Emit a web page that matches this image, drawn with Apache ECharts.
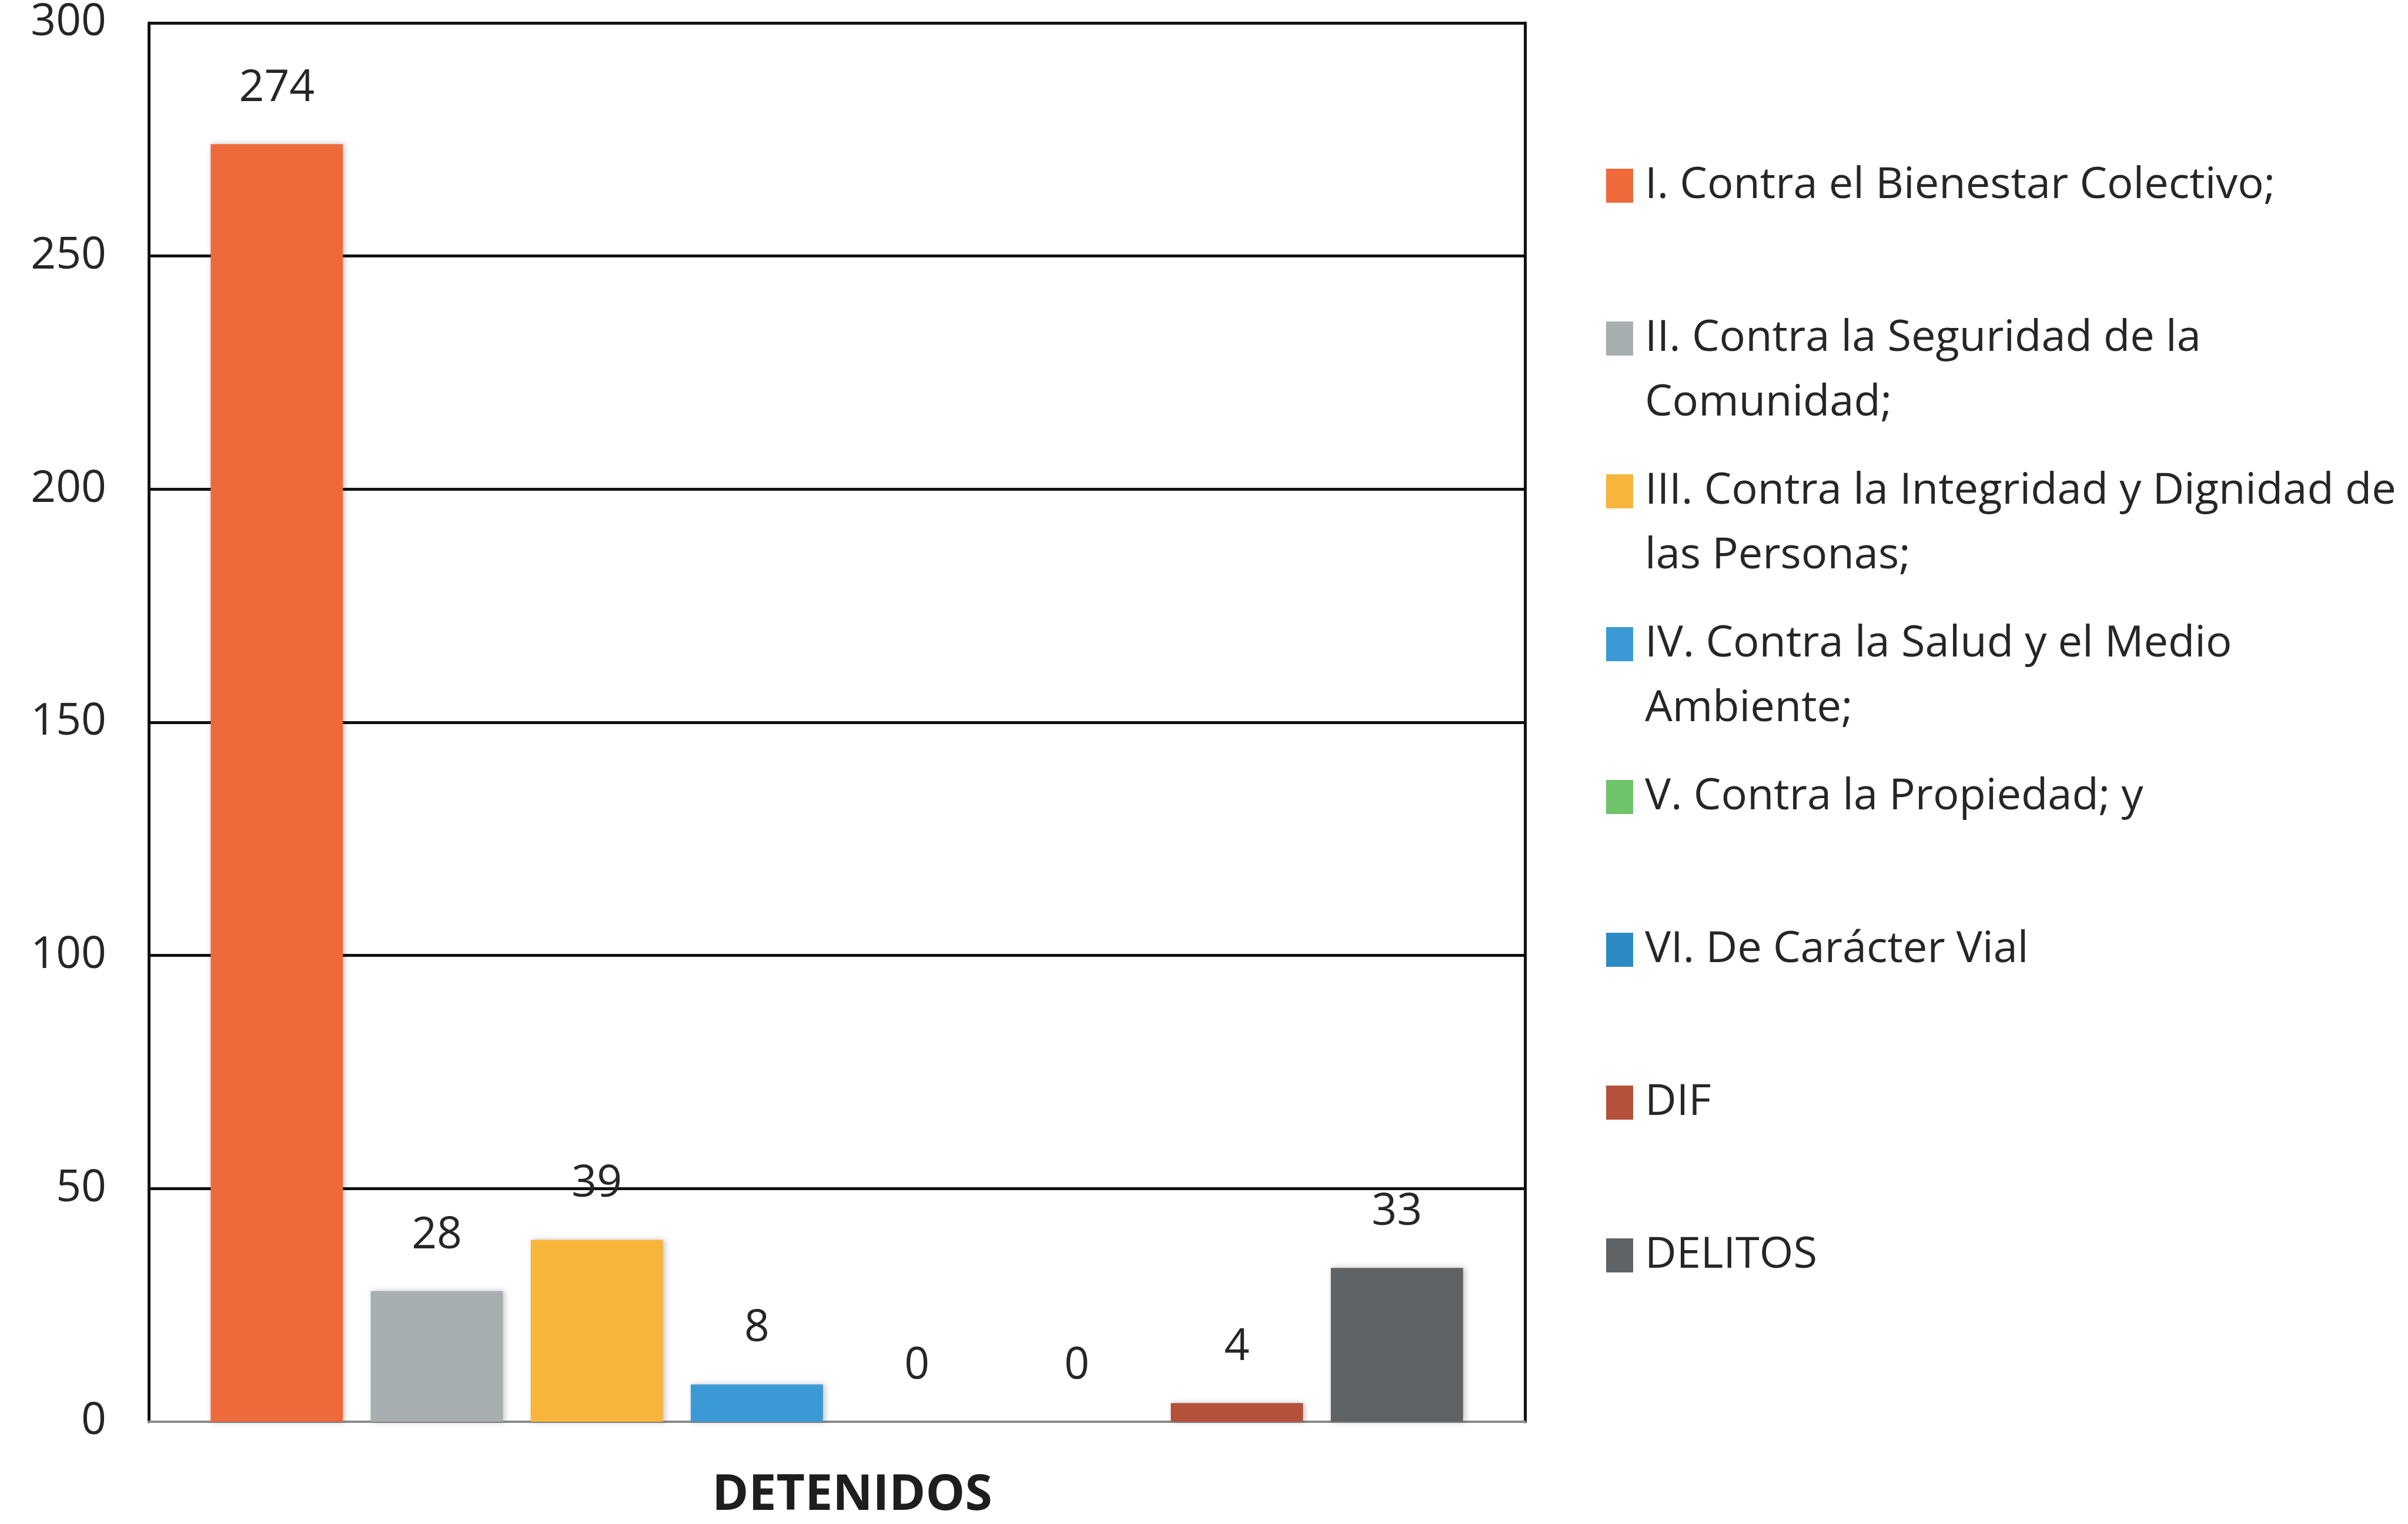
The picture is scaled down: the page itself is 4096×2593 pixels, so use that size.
<!DOCTYPE html>
<html>
<head>
<meta charset="utf-8">
<script src="https://cdn.jsdelivr.net/npm/echarts@6/dist/echarts.min.js"></script>
<style>
  html, body { margin: 0; padding: 0; background: #fff; }
  #chart { width: 4096px; height: 2593px; }
</style>
</head>
<body>
<div id="chart"></div>
<script>
// datos
const categories = ['DETENIDOS']
const seriesNames = [
  'I. Contra el Bienestar Colectivo;',
  'II. Contra la Seguridad de la Comunidad;',
  'III. Contra la Integridad y Dignidad de las Personas;',
  'IV. Contra la Salud y el Medio Ambiente;',
  'V. Contra la Propiedad; y',
  'VI. De Carácter Vial',
  'DIF',
  'DELITOS'
]
// texto de la leyenda con el salto de linea del original
const legendText = [
  'I. Contra el Bienestar Colectivo;',
  'II. Contra la Seguridad de la\nComunidad;',
  'III. Contra la Integridad y Dignidad de\nlas Personas;',
  'IV. Contra la Salud y el Medio\nAmbiente;',
  'V. Contra la Propiedad; y',
  'VI. De Carácter Vial',
  'DIF',
  'DELITOS'
]
const values = [274, 28, 39, 8, 0, 0, 4, 33]
const colors = ['#EF6A3A', '#A7AEB0', '#F7B53C', '#3B9AD6', '#6DC46B', '#2B8BC2', '#B4513A', '#5F6366']

const font = '"Open Sans", "Noto Sans", sans-serif'
const lineH = 110 // alto de linea en la leyenda

const myChart = echarts.init(document.getElementById('chart'))

const legends = seriesNames.map((name, i) => {
  const center = 316 + i * 260
  const wrapped = legendText[i].indexOf('\n') >= 0
  return {
    data: [name],
    orient: 'vertical',
    left: 2732,
    top: wrapped ? center - 1.5 * lineH : center - lineH / 2,
    padding: 0,
    icon: 'rect',
    itemWidth: 46,
    itemHeight: 58,
    itemStyle: { shadowBlur: 0 },
    // linea en blanco arriba para que el icono quede con la primera linea
    formatter: () => (wrapped ? ' \n' : '') + legendText[i],
    textStyle: {
      fontFamily: font,
      fontSize: 74,
      lineHeight: lineH,
      color: '#262626',
      padding: [0, 0, 0, 15]
    }
  }
})

myChart.setOption({
  backgroundColor: '#ffffff',
  animation: false,
  legend: legends,
  grid: {
    left: 253,
    right: 1502,
    top: 39,
    bottom: 174
  },
  xAxis: {
    type: 'category',
    data: categories,
    axisLine: {
      show: true,
      lineStyle: { color: '#8c8c8c', width: 4 }
    },
    axisTick: { show: false },
    axisLabel: {
      margin: 84,
      fontFamily: font,
      fontSize: 84,
      fontWeight: 'bold',
      color: '#1e1e1e',
      padding: [0, 0, 0, 52]
    }
  },
  yAxis: [
    {
      type: 'value',
      min: 0,
      max: 300,
      interval: 50,
      axisLine: {
        show: true,
        lineStyle: { color: '#111', width: 5 }
      },
      axisTick: { show: false },
      axisLabel: {
        margin: 72,
        fontFamily: font,
        fontSize: 75,
        color: '#262626'
      },
      splitLine: {
        show: true,
        showMinLine: false,
        lineStyle: { color: '#111', width: 5 }
      }
    },
    {
      // borde derecho del area
      type: 'value',
      position: 'right',
      min: 0,
      max: 300,
      interval: 50,
      axisLine: {
        show: true,
        lineStyle: { color: '#111', width: 5 }
      },
      axisTick: { show: false },
      axisLabel: { show: false },
      splitLine: { show: false }
    }
  ],
  series: seriesNames.map((name, i) => ({
    name: name,
    type: 'bar',
    data: [values[i]],
    barGap: '21%',
    barCategoryGap: '9%',
    itemStyle: {
      color: colors[i],
      shadowBlur: 10,
      shadowColor: 'rgba(0,0,0,0.25)',
      shadowOffsetX: 3
    },
    label: {
      show: true,
      position: 'top',
      distance: 57,
      fontFamily: font,
      fontSize: 75,
      color: '#262626'
    }
  }))
})
</script>
</body>
</html>
